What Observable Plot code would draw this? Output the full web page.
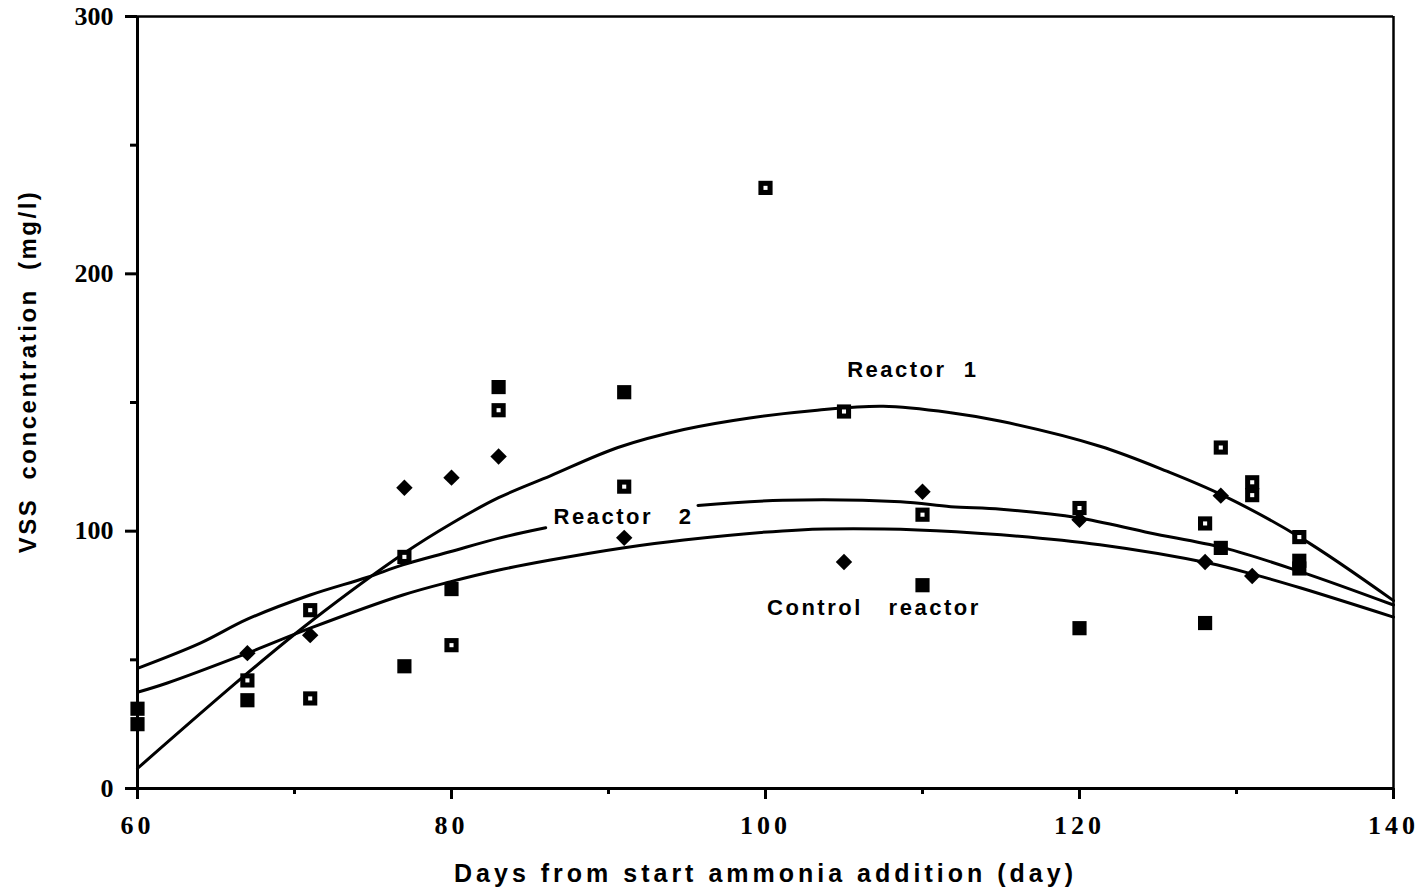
<!DOCTYPE html>
<html>
<head>
<meta charset="utf-8">
<script src="https://cdn.jsdelivr.net/npm/d3@7"></script>
<script src="https://cdn.jsdelivr.net/npm/@observablehq/plot@0.6"></script>
<style>
  html, body { margin: 0; padding: 0; background: #fff; }
  #chart svg { display: block; }
  g[aria-label="x-axis tick label"] text { letter-spacing: 4px; }
</style>
</head>
<body>
<div id="chart"></div>
<script>
// ---- Data ----
// Days from start of ammonia addition, VSS (mg/l)
const reactor1Points = [ // open squares
  [67, 42], [71, 35], [71, 69.3], [77, 90], [80, 55.7], [83, 147], [91, 117.3],
  [100, 233.4], [105, 146.5], [110, 106.4], [120, 109], [128, 103], [129, 132.5],
  [131, 119], [131, 114], [134, 97.7]
];
const controlPoints = [ // filled squares
  [60, 31], [60, 25], [67, 34.3], [77, 47.5], [80, 77.5], [83, 156], [91, 154],
  [110, 79], [120, 62.3], [128, 64.3], [129, 93.5], [134, 88.5], [134, 85.5]
];
const reactor2Points = [ // diamonds
  [67, 52.6], [71, 59.6], [77, 116.9], [80, 120.8], [83, 129], [91, 97.4],
  [105, 88], [110, 115.3], [120, 104.4], [128, 88], [129, 113.8], [131, 82.6]
];

// Fitted curves
const reactor1Curve = [
  [60, 7.8], [67, 44.8], [71, 64.7], [77, 91.5], [80, 103], [83, 113], [86.3, 121.5],
  [90.6, 132.5], [94.8, 139.5], [99, 144], [103.3, 147], [107.5, 148.5], [111.8, 146],
  [115, 142.7], [121.3, 133], [125.6, 123.2], [129.1, 114], [134.1, 97.4], [140, 73]
];
const reactor2CurveLeft = [
  [60, 46.7], [64, 56.5], [67, 65.8], [71, 75.2], [74.6, 82], [76.9, 86.9],
  [79.9, 92], [83.1, 97.4], [86, 101.3]
];
const reactor2CurveRight = [
  [95.7, 110], [101.1, 112], [108.6, 111.4], [111.8, 109.5], [115, 108.5],
  [119.9, 105.2], [124.5, 99.3], [129.2, 93.5], [134.1, 84.2], [140, 71.3]
];
const controlCurve = [
  [60, 37.4], [61.9, 41], [67, 52.6], [71, 62.3], [76.9, 75.2], [79.9, 80.3],
  [83.1, 85], [86.3, 88.8], [90.9, 93.5], [94.8, 96.6], [102.2, 100.5],
  [109.7, 100.5], [115, 98.6], [121.3, 94.7], [128.2, 87.6], [131.2, 83],
  [134.1, 77.9], [140, 66.6]
];

const curveLabels = [
  {text: "Reactor\u00a0\u00a01", day: 105.2, vss: 162.5},
  {text: "Reactor\u00a0\u00a0\u00a02", day: 86.5, vss: 105.6},
  {text: "Control\u00a0\u00a0\u00a0reactor", day: 100.1, vss: 70.1}
];

const xMajorTicks = [60, 80, 100, 120, 140];
const xMinorTicks = [70, 90, 110, 130];
const yMajorTicks = [0, 100, 200, 300];
const yMinorTicks = [50, 150, 250];
const xTitle = "Days from start ammonia addition (day)";
const yTitle = "VSS\u00a0\u00a0concentration\u00a0\u00a0(mg/l)";

// ---- Chart ----
const sans = "'Liberation Sans', Arial, Helvetica, sans-serif";
const serif = "'Liberation Serif', 'Times New Roman', serif";
const X = d => d[0], Y = d => d[1];

const chart = Plot.plot({
  width: 1426,
  height: 894,
  marginLeft: 137,
  marginRight: 33,
  marginTop: 16,
  marginBottom: 106,
  x: {domain: [60, 140]},
  y: {domain: [0, 300]},
  style: {background: "white", color: "black", overflow: "visible"},
  marks: [
    Plot.axisX({ticks: xMajorTicks, tickSize: 11, tickPadding: 16, strokeWidth: 3,
      fontSize: 26, fontFamily: serif, fontWeight: "bold", label: null}),
    Plot.axisX({ticks: xMinorTicks, tickSize: 6, strokeWidth: 3, tickFormat: () => "", label: null}),
    Plot.axisY({ticks: yMajorTicks, tickSize: 12, tickPadding: 12, strokeWidth: 3,
      fontSize: 26, fontFamily: serif, fontWeight: "bold", label: null}),
    Plot.axisY({ticks: yMinorTicks, tickSize: 7, strokeWidth: 3, tickFormat: () => "", label: null}),
    Plot.ruleY([300], {strokeWidth: 2.5}),
    Plot.ruleX([140], {strokeWidth: 2.5}),
    Plot.ruleX([60], {strokeWidth: 3}),
    Plot.ruleY([0], {strokeWidth: 3}),

    Plot.line(reactor1Curve, {x: X, y: Y, strokeWidth: 3, curve: "catmull-rom"}),
    Plot.line(reactor2CurveLeft, {x: X, y: Y, strokeWidth: 3, curve: "catmull-rom"}),
    Plot.line(reactor2CurveRight, {x: X, y: Y, strokeWidth: 3, curve: "catmull-rom"}),
    Plot.line(controlCurve, {x: X, y: Y, strokeWidth: 3, curve: "catmull-rom"}),

    Plot.dot(controlPoints, {x: X, y: Y, symbol: "square", r: 8, fill: "black"}),
    Plot.dot(reactor1Points, {x: X, y: Y, symbol: "square", r: 8, fill: "black"}),
    Plot.dot(reactor1Points, {x: X, y: Y, symbol: "square", r: 2.3, fill: "white"}),
    Plot.dot(reactor2Points, {x: X, y: Y, symbol: "diamond2", r: 7.4, fill: "black"}),

    Plot.text(curveLabels, {x: "day", y: "vss", text: "text", textAnchor: "start",
      fontSize: 22, fontWeight: "bold", fontFamily: sans}),
    Plot.text([xTitle], {frameAnchor: "bottom", dy: 85, lineAnchor: "middle", textAnchor: "middle",
      fontSize: 25, fontWeight: "bold", fontFamily: sans}),
    Plot.text([yTitle], {frameAnchor: "left", dx: -109, dy: -31, rotate: -90, lineAnchor: "middle",
      textAnchor: "middle", fontSize: 24, fontWeight: "bold", fontFamily: sans})
  ]
});

// letter spacing for the wide-set lettering of the original
const labelTexts = curveLabels.map(d => d.text);
d3.select(chart).selectAll("text").each(function() {
  const t = this.textContent;
  if (labelTexts.includes(t)) this.style.letterSpacing = "2.5px";
  else if (t === xTitle) this.style.letterSpacing = "4px";
  else if (t === yTitle) this.style.letterSpacing = "2.5px";
});
document.getElementById("chart").appendChild(chart);
</script>
</body>
</html>
